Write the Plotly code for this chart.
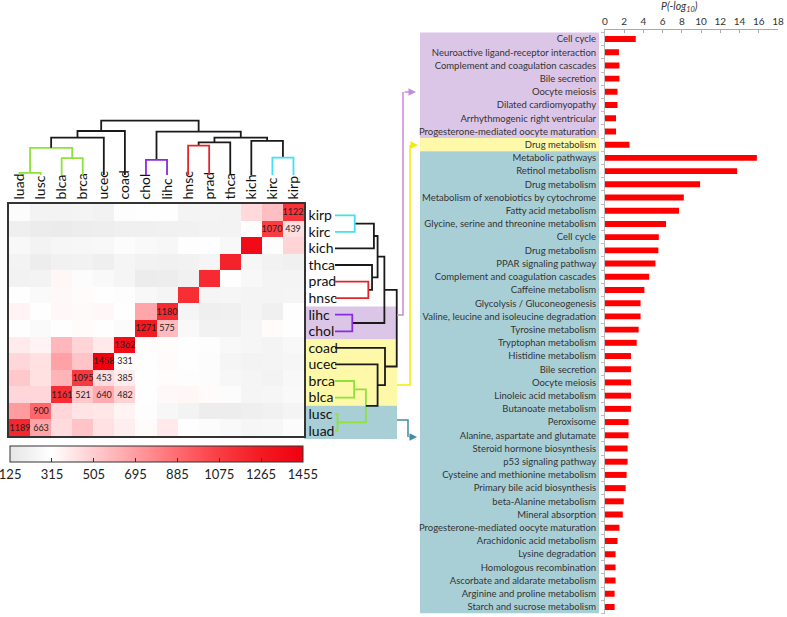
import plotly.graph_objects as go

W, H = 787, 617
FONT = "Lato"

# ---------------- data ----------------
samples = ["luad", "lusc", "blca", "brca", "ucec", "coad", "chol",
           "lihc", "hnsc", "prad", "thca", "kich", "kirc", "kirp"]

# overlap matrix, rows listed top -> bottom (kirp ... luad), columns = samples order
overlap_top_down = [
    # luad lusc blca brca ucec coad chol lihc hnsc prad thca kich kirc kirp
    [290, 225, 225, 230, 215, 300, 305, 305, 230, 230, 220, 460, 560, 1122],   # kirp
    [190, 170, 165, 175, 185, 200, 200, 205, 205, 220, 220, 305, 1070, 439],   # kirc
    [260, 225, 250, 255, 260, 290, 270, 255, 310, 310, 260, 1380, 300, 480],   # kich
    [220, 175, 205, 215, 190, 235, 215, 205, 215, 240, 1220, 250, 215, 200],   # thca
    [215, 220, 350, 290, 270, 235, 170, 175, 205, 1180, 305, 260, 230, 230],   # prad
    [305, 280, 340, 330, 305, 300, 260, 240, 1150, 235, 250, 230, 230, 240],   # hnsc
    [360, 310, 345, 335, 345, 310, 660, 1180, 240, 190, 200, 230, 200, 305],   # lihc
    [305, 280, 305, 330, 305, 285, 1271, 575, 270, 215, 215, 250, 330, 310],   # chol
    [390, 360, 590, 480, 400, 1362, 325, 325, 320, 300, 260, 250, 230, 260],   # coad
    [470, 430, 680, 540, 1458, 331, 310, 330, 320, 290, 235, 220, 230, 250],   # ucec
    [520, 430, 600, 1095, 453, 385, 310, 325, 300, 290, 255, 240, 220, 260],   # brca
    [470, 470, 1161, 521, 640, 482, 320, 340, 350, 330, 290, 235, 250, 270],   # blca
    [700, 900, 470, 420, 410, 360, 300, 255, 220, 175, 175, 190, 205, 230],    # lusc
    [1189, 663, 450, 540, 430, 380, 330, 400, 305, 290, 270, 250, 255, 290],   # luad
]
row_names_top_down = samples[::-1]

labeled_cells = [("kirp", "kirp"), ("kirc", "kirc"), ("kirc", "kirp"),
                 ("lihc", "lihc"), ("chol", "chol"), ("chol", "lihc"),
                 ("coad", "coad"), ("ucec", "ucec"), ("ucec", "coad"),
                 ("brca", "brca"), ("brca", "ucec"), ("brca", "coad"),
                 ("blca", "blca"), ("blca", "brca"), ("blca", "ucec"), ("blca", "coad"),
                 ("lusc", "lusc"), ("luad", "luad"), ("luad", "lusc")]

colorbar_ticks = [125, 315, 505, 695, 885, 1075, 1265, 1455]

# hierarchical clustering: (node, left, right, height, colour)
dendro_merges = [
    ("A", "luad", "lusc", 4, "green"),
    ("B", "blca", "brca", 31, "green"),
    ("C", "A", "B", 50, "green"),
    ("D", "C", "ucec", 69, "black"),
    ("E", "D", "coad", 81, "black"),
    ("F", "chol", "lihc", 28, "purple"),
    ("G", "hnsc", "prad", 54, "red"),
    ("Hh", "G", "thca", 60, "black"),
    ("I", "kirc", "kirp", 32, "cyan"),
    ("J", "kich", "I", 63, "black"),
    ("K", "Hh", "J", 69, "black"),
    ("L", "F", "K", 80, "black"),
    ("M", "E", "L", 100, "black"),
]
dendro_colors = {"green": "#8fe23c", "black": "#1a1a1a", "purple": "#8a2be2",
                 "red": "#e3262b", "cyan": "#3fe3ef"}

# cluster bands behind the row labels
cluster_bands = [(["lihc", "chol"], "#dcc6e8"),
                 (["coad", "ucec", "brca", "blca"], "#fdf9a8"),
                 (["lusc", "luad"], "#a9cfd6")]

# enriched pathways, P(-log10)
pathways_purple = ["Cell cycle", "Neuroactive ligand-receptor interaction",
                   "Complement and coagulation cascades", "Bile secretion", "Oocyte meiosis",
                   "Dilated cardiomyopathy", "Arrhythmogenic right ventricular",
                   "Progesterone-mediated oocyte maturation"]
values_purple = [3.2, 1.45, 1.5, 1.5, 1.3, 1.3, 1.15, 1.15]

pathways_yellow = ["Drug metabolism"]
values_yellow = [2.55]

pathways_teal = ["Metabolic pathways", "Retinol metabolism", "Drug metabolism",
                 "Metabolism of xenobiotics by cytochrome", "Fatty acid metabolism",
                 "Glycine, serine and threonine metabolism", "Cell cycle", "Drug metabolism",
                 "PPAR signaling pathway", "Complement and coagulation cascades",
                 "Caffeine metabolism", "Glycolysis / Gluconeogenesis",
                 "Valine, leucine and isoleucine degradation", "Tyrosine metabolism",
                 "Tryptophan metabolism", "Histidine metabolism", "Bile secretion",
                 "Oocyte meiosis", "Linoleic acid metabolism", "Butanoate metabolism",
                 "Peroxisome", "Alanine, aspartate and glutamate", "Steroid hormone biosynthesis",
                 "p53 signaling pathway", "Cysteine and methionine metabolism",
                 "Primary bile acid biosynthesis", "beta-Alanine metabolism", "Mineral absorption",
                 "Progesterone-mediated oocyte maturation", "Arachidonic acid metabolism",
                 "Lysine degradation", "Homologous recombination",
                 "Ascorbate and aldarate metabolism", "Arginine and proline metabolism",
                 "Starch and sucrose metabolism"]
values_teal = [15.8, 13.75, 9.9, 8.2, 7.7, 6.35, 5.6, 5.55, 5.25, 4.6, 4.1, 3.7, 3.7,
               3.5, 3.3, 2.7, 2.7, 2.7, 2.7, 2.7, 2.45, 2.45, 2.35, 2.35, 2.25, 2.15,
               1.95, 1.85, 1.5, 1.3, 1.1, 1.1, 1.1, 1.0, 1.0]

bar_groups = [(pathways_purple, values_purple, "#dcc6e8"),
              (pathways_yellow, values_yellow, "#fdf9a8"),
              (pathways_teal, values_teal, "#a9cfd6")]


# ---------------- helpers ----------------
def px(x):
    return x / W


def py(y):
    return 1 - y / H


fig = go.Figure()

# ---------------- heatmap ----------------
z = overlap_top_down[::-1]
labeled = set(labeled_cells)
text = [[(str(overlap_top_down[r][c]) if (row_names_top_down[r], samples[c]) in labeled else "")
         for c in range(len(samples))] for r in range(len(samples))][::-1]

colorscale = [[0.0, "#e6e6e6"], [0.1429, "#ffffff"], [0.2857, "#ffcdd0"],
              [0.4286, "#ff9da1"], [0.5714, "#ff6b70"], [0.7143, "#f93d42"],
              [0.8571, "#f31a22"], [1.0, "#f0000f"]]

zmin, zmax = colorbar_ticks[0] - 0.5, colorbar_ticks[-1] + 0.5
fig.add_trace(go.Heatmap(
    z=z, x=samples, y=samples, text=text, texttemplate="%{text}",
    textfont=dict(size=9, color="#1e1e1e", family=FONT),
    colorscale=colorscale, zmin=zmin, zmax=zmax,
    xaxis="x", yaxis="y", hoverinfo="skip",
    colorbar=dict(orientation="h", x=px(156.5), xanchor="center", y=py(445.5), yanchor="top",
                  len=293 / W, lenmode="fraction", thickness=16, thicknessmode="pixels",
                  xpad=0, ypad=0, outlinewidth=1, outlinecolor="#333",
                  tickmode="array", tickvals=colorbar_ticks,
                  ticktext=[str(t) for t in colorbar_ticks], ticklabeloverflow="allow",
                  ticks="inside", ticklen=4, tickcolor="#333",
                  tickfont=dict(size=13, family=FONT, color="#222")),
))

# ---------------- dendrograms ----------------
pos = {s: (i, 0.0) for i, s in enumerate(samples)}
segs = {}
for node, left, right, h, col in dendro_merges:
    xl, hl = pos[left]
    xr, hr = pos[right]
    segs.setdefault(col, ([], []))
    segs[col][0].extend([xl, xl, xr, xr, None])
    segs[col][1].extend([hl, h, h, hr, None])
    pos[node] = ((xl + xr) / 2, h)

for col, (lx, lh) in segs.items():
    fig.add_trace(go.Scatter(x=lx, y=lh, mode="lines", xaxis="x3", yaxis="y3",
                             line=dict(color=dendro_colors[col], width=1.8),
                             hoverinfo="skip", showlegend=False))
    fig.add_trace(go.Scatter(x=lh, y=lx, mode="lines", xaxis="x4", yaxis="y4",
                             line=dict(color=dendro_colors[col], width=1.8),
                             hoverinfo="skip", showlegend=False))

# ---------------- bar chart ----------------
bar_names, bar_vals = [], []
for names, vals, _ in bar_groups:
    bar_names += names
    bar_vals += vals
idx = list(range(len(bar_names)))

fig.add_trace(go.Bar(x=bar_vals, y=idx, orientation="h", xaxis="x2", yaxis="y2",
                     marker=dict(color="#ff0000", line=dict(width=0)), width=0.45,
                     hoverinfo="skip", showlegend=False))

shapes = []
start = 0
for names, vals, colr in bar_groups:
    shapes.append(dict(type="rect", xref="paper", yref="y2", x0=px(420), x1=px(599),
                       y0=start - 0.5, y1=start + len(names) - 0.5,
                       fillcolor=colr, line=dict(width=0), layer="below"))
    start += len(names)

for members, colr in cluster_bands:
    ids = [samples.index(m) for m in members]
    shapes.append(dict(type="rect", xref="paper", yref="y4", x0=px(304), x1=px(397),
                       y0=min(ids) - 0.5, y1=max(ids) + 0.5,
                       fillcolor=colr, line=dict(width=0), layer="below"))


def path(points):
    return "M " + " L ".join(f"{px(x):.5f},{py(y):.5f}" for x, y in points)


arrow_specs = [
    ([(397, 315), (403, 315), (403, 92)], (416, 92), "#c68ad8"),
    ([(397, 385), (410, 385), (410, 145)], (418, 145), "#eeee00"),
    ([(397, 420), (408, 420), (408, 437)], (417, 437), "#3f8ca3"),
]
annotations = []
for pts, tip, colr in arrow_specs:
    shapes.append(dict(type="path", xref="paper", yref="paper", path=path(pts),
                       line=dict(color=colr, width=1.5)))
    last = pts[-1]
    annotations.append(dict(xref="paper", yref="paper", x=px(tip[0]), y=py(tip[1]),
                            ax=-(tip[0] - last[0]), ay=0, text="", showarrow=True,
                            arrowhead=2, arrowsize=1, arrowwidth=1.5, arrowcolor=colr))

annotations.append(dict(xref="paper", yref="paper", x=px(700), y=py(7), yanchor="middle",
                        text="<i>P(-log<sub>10</sub>)</i>", showarrow=False,
                        font=dict(size=10.5, family=FONT, color="#333")))

heat_dom_x = [px(9), px(304)]
heat_dom_y = [py(436), py(204)]

fig.update_layout(
    width=W, height=H, margin=dict(l=0, r=0, t=0, b=0, autoexpand=False),
    paper_bgcolor="white", plot_bgcolor="white", showlegend=False,
    font=dict(family=FONT, color="#222"),
    shapes=shapes, annotations=annotations,
    xaxis=dict(domain=heat_dom_x, anchor="y", side="top", tickangle=-90,
               tickfont=dict(size=14, color="#111"), showline=True, mirror=True,
               linecolor="#333", linewidth=1.5, ticks="", showgrid=False,
               tickmode="array", tickvals=samples,
               range=[-0.5, len(samples) - 0.5], categoryorder="array", categoryarray=samples),
    yaxis=dict(domain=heat_dom_y, anchor="x", side="right", showline=True, mirror=True,
               linecolor="#333", linewidth=1.5, ticks="", showgrid=False,
               tickmode="array", tickvals=samples,
               tickfont=dict(size=14, color="#111"), ticklabelshift=3,
               range=[-0.5, len(samples) - 0.5], categoryorder="array", categoryarray=samples),
    xaxis3=dict(domain=heat_dom_x, anchor="y3", range=[-0.5, len(samples) - 0.5], visible=False),
    yaxis3=dict(domain=[py(175), py(115)], anchor="x3", range=[0, 110.5], visible=False),
    xaxis4=dict(domain=[px(335), px(400)], anchor="y4", range=[0, 105.3], visible=False),
    yaxis4=dict(domain=[py(439), py(207)], anchor="x4", range=[-0.5, len(samples) - 0.5],
                visible=False),
    xaxis2=dict(domain=[px(605), px(778)], anchor="y2", side="top", range=[0, 18], dtick=2,
                tick0=0, showline=True, linecolor="#aaa", linewidth=1, ticks="inside",
                ticklen=3, tickcolor="#aaa", showgrid=False, zeroline=False,
                tickfont=dict(size=10, color="#333")),
    yaxis2=dict(domain=[py(613.6), py(29.5)], anchor="x2", range=[len(bar_names) - 0.5, -0.72],
                tickvals=idx, ticktext=bar_names, ticks="", showline=True, linecolor="#bbb",
                linewidth=1, showgrid=False, zeroline=False, ticklabelstandoff=6,
                tickfont=dict(size=9.5, color="#333"),
                minor=dict(tick0=0.5, dtick=1, ticks="outside", ticklen=3, tickcolor="#bbb")),
)

fig.write_html("out.html", config={"displayModeBar": False},
               post_script="document.body.style.margin='0';document.body.style.padding='0';")
